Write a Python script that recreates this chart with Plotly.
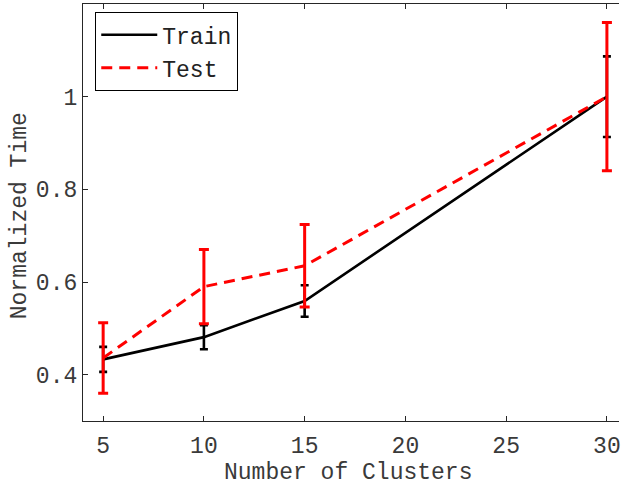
import plotly.graph_objects as go

# Number of clusters on the x axis
clusters = [5, 10, 15, 30]

# Normalized time, mean and error per cluster count
train_time = [0.433, 0.481, 0.559, 1.000]
train_err = [0.027, 0.026, 0.034, 0.087]
test_time = [0.436, 0.590, 0.635, 1.000]
test_err = [0.076, 0.080, 0.089, 0.160]

x_ticks = [5, 10, 15, 20, 25, 30]
y_ticks = [0.4, 0.6, 0.8, 1.0]
y_tick_text = ["0.4", "0.6", "0.8", "1"]

FONT = "Liberation Mono, Courier New, monospace"
AXIS_COLOR = "#262626"
TEXT_COLOR = "#3a3a3a"

fig = go.Figure()

fig.add_trace(go.Scatter(
    x=clusters, y=train_time, name="Train", mode="lines",
    line=dict(color="black", width=2.6),
    error_y=dict(type="data", array=train_err, visible=True,
                 color="black", thickness=2.6, width=4),
))
fig.add_trace(go.Scatter(
    x=clusters, y=test_time, name="Test", mode="lines",
    line=dict(color="#ff0000", width=3, dash="11px,7px"),
    error_y=dict(type="data", array=test_err, visible=True,
                 color="#ff0000", thickness=3, width=5),
))

W, H = 621, 496
L, R, T, B = 83, 0, 4, 75
PW, PH = W - L - R, H - T - B

fig.update_layout(
    width=W, height=H,
    margin=dict(l=L, r=R, t=T, b=B, pad=0),
    paper_bgcolor="white", plot_bgcolor="white",
    font=dict(family=FONT, size=23, color=TEXT_COLOR),
    showlegend=True,
    legend=dict(
        x=(95 - L) / PW, y=1 - (12 - T) / PH, xanchor="left", yanchor="top",
        bgcolor="white", bordercolor="black", borderwidth=1.3,
        font=dict(family=FONT, size=23, color="#222222"),
        itemwidth=56, tracegroupgap=0,
    ),
    xaxis=dict(
        range=[4, 30.6], tickvals=x_ticks, ticktext=[str(v) for v in x_ticks],
        showgrid=False, zeroline=False,
        showline=True, linecolor=AXIS_COLOR, linewidth=1.3,
        mirror="ticks", ticks="inside", ticklen=5, tickwidth=1.3,
        tickcolor=AXIS_COLOR, ticklabelstandoff=3,
        ticklabeloverflow="allow",
        tickfont=dict(family=FONT, size=23, color=TEXT_COLOR),
    ),
    yaxis=dict(
        range=[0.3, 1.2], tickvals=y_ticks, ticktext=y_tick_text,
        showgrid=False, zeroline=False,
        showline=True, linecolor=AXIS_COLOR, linewidth=1.3,
        mirror=False, ticks="inside", ticklen=5, tickwidth=1.3,
        tickcolor=AXIS_COLOR,
        tickfont=dict(family=FONT, size=23, color=TEXT_COLOR),
    ),
    annotations=[
        dict(text="Number of Clusters", xref="paper", yref="paper",
             x=(349 - L) / PW, y=-52 / PH, xanchor="center", yanchor="middle",
             showarrow=False, font=dict(family=FONT, size=23, color=TEXT_COLOR)),
        dict(text="Normalized Time", xref="paper", yref="paper",
             x=(20 - L) / PW, y=1 - (216 - T) / PH, xanchor="center",
             yanchor="middle", textangle=-90, showarrow=False,
             font=dict(family=FONT, size=23, color=TEXT_COLOR)),
    ],
)

fig.write_html("out.html")
